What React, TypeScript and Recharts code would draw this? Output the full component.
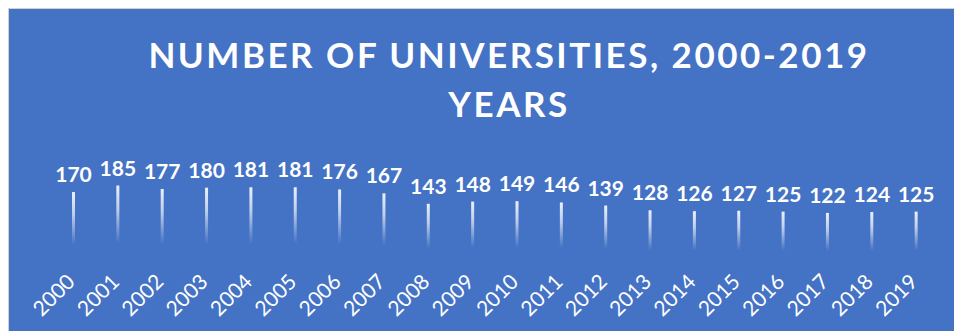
import { Bar, BarChart, LabelList, XAxis, YAxis } from "recharts";

const years = [
  "2000", "2001", "2002", "2003", "2004", "2005", "2006", "2007", "2008", "2009",
  "2010", "2011", "2012", "2013", "2014", "2015", "2016", "2017", "2018", "2019",
];
const universities = [
  170, 185, 177, 180, 181, 181, 176, 167, 143, 148,
  149, 146, 139, 128, 126, 127, 125, 122, 124, 125,
];
const titleLines = ["NUMBER OF UNIVERSITIES, 2000-2019", "YEARS"];

const data = years.map((year, i) => ({ year, value: universities[i] }));

const BG = "#4472C4";

function YearTick(props: any) {
  const { x, y, payload } = props;
  const tx = x + 3;
  return (
    <text
      x={tx}
      y={y}
      transform={`rotate(-45, ${tx}, ${y})`}
      textAnchor="end"
      fill="#fff"
      fontFamily="Lato, sans-serif"
      fontSize={21}
    >
      {payload.value}
    </text>
  );
}

export default function App() {
  return (
    <div
      style={{
        position: "fixed",
        left: 8,
        top: 8,
        width: 946,
        height: 323,
        background: BG,
        borderLeft: "1px solid #d0d0d0",
        borderTop: "1px solid #d0d0d0",
        boxSizing: "border-box",
        overflow: "hidden",
      }}
    >
      <svg
        width={945}
        height={322}
        style={{ position: "absolute", left: 0, top: 0 }}
      >
        {titleLines.map((line, i) => (
          <text
            key={line}
            x={500}
            y={59 + i * 49}
            textAnchor="middle"
            fill="#fff"
            fontFamily="Lato, sans-serif"
            fontWeight={700}
            fontSize={35}
            letterSpacing={2.5}
          >
            {line}
          </text>
        ))}
      </svg>
      <div style={{ position: "absolute", left: 0, top: 0 }}>
        <BarChart
          width={945}
          height={322}
          data={data}
          margin={{ top: 170, right: 16, bottom: 5, left: 42 }}
        >
          <defs>
            <linearGradient id="barGrad" x1="0" y1="0" x2="0" y2="1">
              <stop offset="0" stopColor="#fff" stopOpacity={0.9} />
              <stop offset="0.3" stopColor="#fff" stopOpacity={0.65} />
              <stop offset="0.72" stopColor="#fff" stopOpacity={0} />
            </linearGradient>
          </defs>
          <XAxis
            dataKey="year"
            axisLine={false}
            tickLine={false}
            tickSize={0}
            tickMargin={17}
            height={60}
            interval={0}
            tick={<YearTick />}
          />
          <YAxis hide domain={[0, 200]} />
          <Bar
            dataKey="value"
            barSize={3}
            fill="url(#barGrad)"
            isAnimationActive={false}
          >
            <LabelList
              dataKey="value"
              position="top"
              offset={10}
              fill="#fff"
              fontFamily="Lato, sans-serif"
              fontWeight={700}
              fontSize={21}
            />
          </Bar>
        </BarChart>
      </div>
    </div>
  );
}
